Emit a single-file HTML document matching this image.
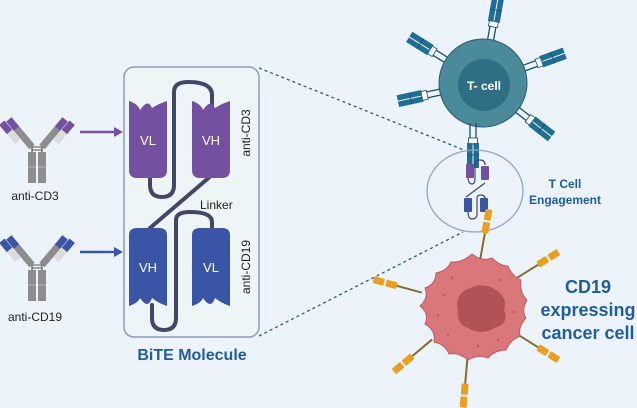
<!DOCTYPE html>
<html><head><style>
html,body{margin:0;padding:0;background:#edf3fb;}
svg{display:block;font-family:"Liberation Sans",sans-serif;}
</style></head><body>
<svg width="637" height="408" viewBox="0 0 637 408" xmlns="http://www.w3.org/2000/svg">
<rect width="637" height="408" fill="#edf3fb"/>
<defs>
<g id="ab">
  <rect x="-9" y="52" width="8" height="31" fill="#8d8d8d"/>
  <rect x="1" y="52" width="8" height="31" fill="#8d8d8d"/>
  <line x1="-9" y1="67" x2="-1" y2="67" stroke="#b5b5b5" stroke-width="1"/>
  <line x1="1" y1="67" x2="9" y2="67" stroke="#b5b5b5" stroke-width="1"/>
  <line x1="-5" y1="46" x2="-5" y2="52" stroke="#555" stroke-width="1.2"/>
  <line x1="5" y1="46" x2="5" y2="52" stroke="#555" stroke-width="1.2"/>
  <line x1="-5" y1="47" x2="5" y2="47" stroke="#555" stroke-width="1"/>
  <line x1="-5" y1="50" x2="5" y2="50" stroke="#555" stroke-width="1"/>
  <g transform="translate(-5,47) rotate(-40)">
    <rect x="-3.5" y="-24" width="7" height="24" fill="#8d8d8d"/>
    <rect x="-3.5" y="-36" width="7" height="12" fill="var(--c)"/>
    <rect x="-11" y="-26" width="7" height="13" fill="#dcdcdc"/>
    <rect x="-11" y="-38" width="7" height="12" fill="var(--c)"/>
  </g>
  <g transform="translate(5,47) rotate(40)">
    <rect x="-3.5" y="-24" width="7" height="24" fill="#8d8d8d"/>
    <rect x="-3.5" y="-36" width="7" height="12" fill="var(--c)"/>
    <rect x="4" y="-26" width="7" height="13" fill="#dcdcdc"/>
    <rect x="4" y="-38" width="7" height="12" fill="var(--c)"/>
  </g>
</g>
<g id="tr">
  <line x1="-3" y1="0" x2="-3" y2="-16" stroke="#1d4f6a" stroke-width="1.3"/>
  <line x1="3" y1="0" x2="3" y2="-16" stroke="#1d4f6a" stroke-width="1.3"/>
  <rect x="-4.5" y="-21" width="9" height="6" fill="#fff" stroke="#1d4f6a" stroke-width="0.8"/>
  <rect x="-6" y="-45" width="5.5" height="25" fill="#1f6f95"/>
  <rect x="0.5" y="-45" width="5.5" height="25" fill="#1f6f95"/>
  <line x1="-6" y1="-32" x2="6" y2="-32" stroke="#174f6c" stroke-width="0.8"/>
</g>
<g id="cr">
  <line x1="0" y1="0" x2="0" y2="-26" stroke="#8a6a2a" stroke-width="2"/>
  <rect x="-3.5" y="-37" width="7" height="11" rx="1" fill="#e8a020"/>
  <rect x="-3.5" y="-50" width="7" height="11" rx="1" fill="#e8a020"/>
</g>
</defs>

<g style="--c:#7450a0" transform="translate(37,100)"><use href="#ab"/></g>
<text x="35" y="200" font-size="12" text-anchor="middle" fill="#222">anti-CD3</text>
<g style="--c:#3a55a5" transform="translate(37,218)"><use href="#ab"/></g>
<text x="35" y="321" font-size="12" text-anchor="middle" fill="#222">anti-CD19</text>

<line x1="80" y1="132" x2="114" y2="132" stroke="#7450a0" stroke-width="2.5"/>
<polygon points="114,127 123,132 114,137" fill="#7450a0"/>
<line x1="80" y1="252" x2="114" y2="252" stroke="#3a55a5" stroke-width="2.5"/>
<polygon points="114,247 123,252 114,257" fill="#3a55a5"/>

<line x1="259" y1="68" x2="464" y2="150" stroke="#2a5d8f" stroke-width="1.3" stroke-dasharray="3,3"/>
<line x1="259" y1="336" x2="463" y2="232" stroke="#2a5d8f" stroke-width="1.3" stroke-dasharray="3,3"/>

<rect x="124" y="67" width="135" height="270" rx="10" fill="#eef5f6" stroke="#8a9cc8" stroke-width="1.5"/>
<g fill="none" stroke="#454566" stroke-width="4" stroke-linecap="round">
  <path d="M150,175 L150,185 Q150,197 162,197 Q174,197 174,185 L174,92 Q174,82 188,82 Q212,82 212,95 L212,108"/>
  <path d="M212,175 L150,228"/>
  <path d="M152,305 L152,318 Q152,330 164,330 Q176,330 176,318 L176,220 Q176,212 190,212 Q212,212 212,222 L212,230"/>
</g>
<path d="M129,101 Q138,104 140,110 Q148,98 152,108 Q158,104 167,101 L167,170 Q167,178 159,178 L137,178 Q129,178 129,170 Z" fill="#7450a0"/>
<path d="M192,101 Q201,104 203,110 Q211,98 215,108 Q221,104 230,101 L230,170 Q230,178 222,178 L200,178 Q192,178 192,170 Z" fill="#7450a0"/>
<path d="M129,235 Q129,228 137,228 L159,228 Q167,228 167,235 L167,306 Q158,303 152,298 Q148,310 140,298 Q138,303 129,306 Z" fill="#3a55a5"/>
<path d="M192,235 Q192,228 200,228 L222,228 Q230,228 230,235 L230,306 Q221,303 215,298 Q211,310 203,298 Q201,303 192,306 Z" fill="#3a55a5"/>
<g fill="#fff" font-size="13" text-anchor="middle">
<text x="148" y="145">VL</text><text x="211" y="145">VH</text>
<text x="148" y="272">VH</text><text x="211" y="272">VL</text>
</g>
<text x="200" y="209" font-size="12" fill="#222">Linker</text>
<text transform="translate(250,133) rotate(-90)" font-size="12" text-anchor="middle" fill="#222">anti-CD3</text>
<text transform="translate(250,267) rotate(-90)" font-size="12" text-anchor="middle" fill="#222">anti-CD19</text>
<text x="192" y="360" font-size="16" font-weight="bold" text-anchor="middle" fill="#1f5da0">BiTE Molecule</text>

<g transform="translate(483,83)">
  <g transform="rotate(10) translate(0,-42)"><use href="#tr"/></g>
  <g transform="rotate(-58) translate(0,-42)"><use href="#tr"/></g>
  <g transform="rotate(70) translate(0,-42)"><use href="#tr"/></g>
  <g transform="rotate(-102) translate(0,-42)"><use href="#tr"/></g>
  <g transform="rotate(128) translate(0,-42)"><use href="#tr"/></g>
</g>
<circle cx="483" cy="83" r="44" fill="#4a8a9a" stroke="#2a5a70" stroke-width="1"/>
<circle cx="484" cy="85" r="26" fill="#2e6f85"/>
<text x="484" y="90" font-size="12" font-weight="bold" fill="#fff" text-anchor="middle">T- cell</text>
<g transform="translate(473,123) rotate(180)"><use href="#tr"/></g>

<ellipse cx="475" cy="191" rx="48" ry="41" fill="none" stroke="#8aa6d6" stroke-width="1.3"/>
<g fill="none" stroke="#454566" stroke-width="1.2">
<path d="M468,176 Q468,184 472,184 Q475,184 475,178 L475,163 Q475,160 480,160 Q485,160 485,165"/>
<path d="M485,183 L466,197"/>
<path d="M468,211 Q468,219 472,219 Q477,219 477,214 L477,198 Q477,195 481,195 Q485,195 485,199"/>
</g>
<rect x="466" y="164" width="8" height="14" rx="1" fill="#7450a0"/>
<rect x="481" y="166" width="8" height="14" rx="1" fill="#7450a0"/>
<rect x="464" y="198" width="8" height="14" rx="1" fill="#3a55a5"/>
<rect x="480" y="198" width="8" height="14" rx="1" fill="#3a55a5"/>
<text x="565" y="188" font-size="12" font-weight="bold" text-anchor="middle" fill="#1f5da0">T Cell</text>
<text x="565" y="204" font-size="12" font-weight="bold" text-anchor="middle" fill="#1f5da0">Engagement</text>

<g transform="translate(472,306)">
  <g transform="rotate(10) translate(0,-48)"><use href="#cr"/></g>
  <g transform="rotate(-75) translate(0,-52)"><use href="#cr"/></g>
  <g transform="rotate(58) translate(0,-52)"><use href="#cr"/></g>
  <g transform="rotate(-130) translate(0,-52)"><use href="#cr"/></g>
  <g transform="rotate(122) translate(0,-52)"><use href="#cr"/></g>
  <g transform="rotate(185) translate(0,-52)"><use href="#cr"/></g>
</g>
<path d="M472,254 Q482,262 492,258 Q500,266 508,266 Q512,276 521,280 Q519,292 527,300 Q521,310 526,318 Q518,326 520,336 Q510,340 506,350 Q495,350 488,358 Q478,354 468,360 Q459,352 449,354 Q445,344 434,342 Q436,330 425,324 Q430,314 420,306 Q429,298 425,288 Q436,284 436,273 Q447,271 451,262 Q462,263 472,254 Z" fill="#d9777a" stroke="#c05a60" stroke-width="1"/>
<path d="M470,288 Q484,282 496,290 Q508,298 504,310 Q510,324 494,328 Q482,336 468,328 Q456,324 458,310 Q454,294 470,288 Z" fill="#b05257"/>
<g fill="#c05a60">
<circle cx="444" cy="295" r="1.2"/><circle cx="452" cy="278" r="1.2"/><circle cx="500" cy="280" r="1.2"/><circle cx="514" cy="312" r="1.2"/><circle cx="498" cy="340" r="1.2"/><circle cx="448" cy="335" r="1.2"/><circle cx="438" cy="315" r="1.2"/><circle cx="478" cy="346" r="1.2"/>
</g>
<g font-size="18" font-weight="bold" text-anchor="middle" fill="#1f5da0">
<text x="588" y="293">CD19</text>
<text x="588" y="316">expressing</text>
<text x="588" y="339">cancer cell</text>
</g>
</svg>
</body></html>
